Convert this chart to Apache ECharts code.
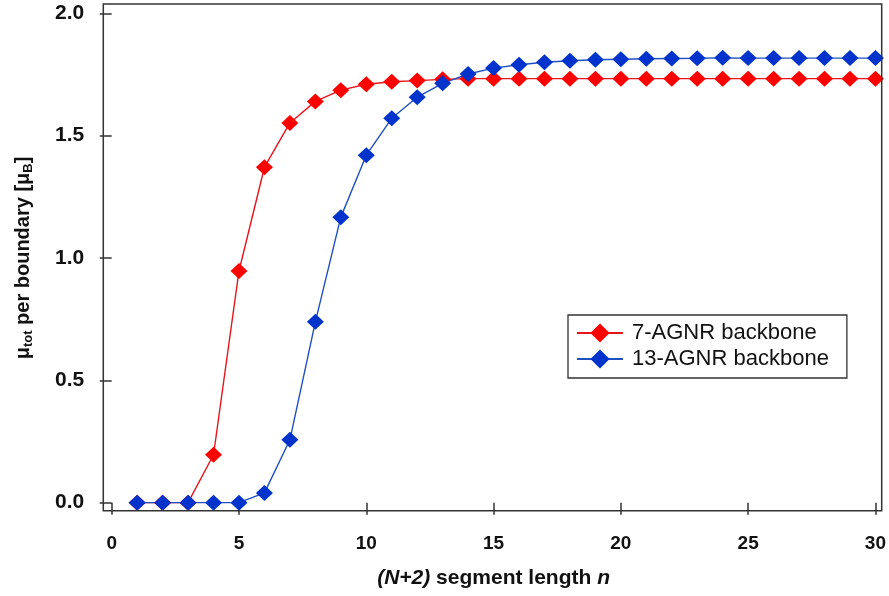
<!DOCTYPE html>
<html><head><meta charset="utf-8">
<script src="https://cdn.jsdelivr.net/npm/echarts@6/dist/echarts.min.js"></script>
<style>html,body{margin:0;padding:0;background:#fff}#c{width:889px;height:596px}</style>
</head><body><div id="c"></div>
<script>
const nValues = [1,2,3,4,5,6,7,8,9,10,11,12,13,14,15,16,17,18,19,20,21,22,23,24,25,26,27,28,29,30];
const agnr7 = [0,0,0,0.196,0.947,1.371,1.552,1.640,1.686,1.710,1.720,1.725,1.730,1.733,1.733,1.733,1.733,1.733,1.733,1.733,1.733,1.733,1.733,1.733,1.733,1.733,1.733,1.733,1.733,1.733];
const agnr13 = [0,0,0,0,0,0.040,0.257,0.739,1.167,1.420,1.571,1.657,1.714,1.752,1.776,1.790,1.800,1.806,1.810,1.812,1.814,1.815,1.816,1.818,1.817,1.817,1.817,1.817,1.817,1.817];
const seriesNames = ['7-AGNR backbone','13-AGNR backbone'];
const xTicks = [0,5,10,15,20,25,30];
const yTicks = [0.0,0.5,1.0,1.5,2.0];

const FONT = '"Liberation Sans",Arial,Helvetica,sans-serif';
const chart = echarts.init(document.getElementById('c'), null, {renderer:'canvas'});
const pair = (ys) => nValues.map((n,i)=>[n, ys[i]]);
chart.setOption({
  animation:false,
  backgroundColor:'#fff',
  grid:{left:111.7, right:13.3, top:13.3, bottom:93.3},
  legend:{
    data:seriesNames, orient:'vertical', left:568, top:315,
    itemWidth:46, itemHeight:24, itemGap:4,
    padding:[7,18,8,8], borderColor:'#333', borderWidth:1.3,
    textStyle:{fontFamily:FONT, fontSize:22, color:'#111', padding:[0,0,0,4]}
  },
  xAxis:{
    type:'value', min:0, max:30, interval:5, offset:8,
    axisLine:{show:false},
    axisTick:{show:true, length:12, lineStyle:{color:'#333', width:1.5}},
    splitLine:{show:false},
    axisLabel:{fontFamily:FONT, fontWeight:'bold', fontSize:19, color:'#111', margin:24,
      formatter:(v)=> xTicks.includes(v) ? String(v) : ''},
    name:'{i|(N+2)}{r| segment length }{i|n}', nameLocation:'middle', nameGap:57,
    nameTextStyle:{rich:{
      i:{fontFamily:FONT, fontWeight:'bold', fontStyle:'italic', fontSize:21, color:'#111'},
      r:{fontFamily:FONT, fontWeight:'bold', fontSize:21, color:'#111'}
    }}
  },
  yAxis:{
    type:'value', min:0, max:2, interval:0.5, offset:8.4,
    axisLine:{show:false},
    axisTick:{show:true, length:12, lineStyle:{color:'#333', width:1.5}},
    splitLine:{show:false},
    axisLabel:{fontFamily:FONT, fontWeight:'bold', fontSize:21, color:'#111', margin:19,
      formatter:(v)=> yTicks.includes(v) ? v.toFixed(1) : ''},
    name:'{a|μ}{s|tot}{a| per boundary [μ}{s|B}{a|]}', nameLocation:'middle', nameGap:68, nameRotate:90,
    nameTextStyle:{rich:{
      a:{fontFamily:FONT, fontWeight:'bold', fontSize:20, color:'#111', lineHeight:24, verticalAlign:'middle'},
      s:{fontFamily:FONT, fontWeight:'bold', fontSize:13, color:'#111', lineHeight:24, padding:[10,0,0,0], verticalAlign:'middle'}
    }}
  },
  graphic:[{type:'rect', shape:{x:103.3, y:4, width:778.4, height:506.7}, style:{fill:'none', stroke:'#333', lineWidth:1.5}, silent:true, z:100}],
  series:[
    {name:seriesNames[0], type:'line', data:pair(agnr7), symbol:'diamond', symbolSize:[17,16], showAllSymbol:true,
     itemStyle:{color:'#ff0000'}, lineStyle:{color:'#e8141c', width:1.4}},
    {name:seriesNames[1], type:'line', data:pair(agnr13), symbol:'diamond', symbolSize:[17,16], showAllSymbol:true,
     itemStyle:{color:'#0033cc'}, lineStyle:{color:'#2050c0', width:1.4}}
  ]
});
</script></body></html>
